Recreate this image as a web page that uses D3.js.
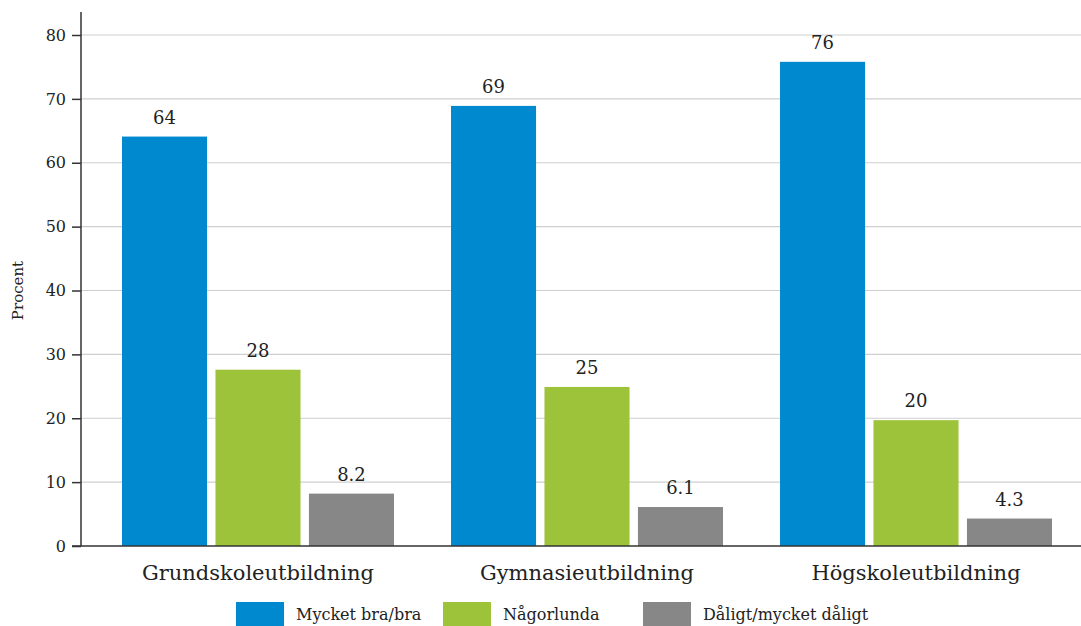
<!DOCTYPE html>
<html>
<head>
<meta charset="utf-8">
<script src="https://cdn.jsdelivr.net/npm/d3@7"></script>
<style>
  body { margin: 0; background: #fff; }
  text { font-family: "DejaVu Serif", "Liberation Serif", serif; fill: #222; }
</style>
</head>
<body>
<div id="chart"></div>
<script>
const categories = ["Grundskoleutbildning", "Gymnasieutbildning", "Högskoleutbildning"];
const seriesNames = ["Mycket bra/bra", "Någorlunda", "Dåligt/mycket dåligt"];
const goodValues = [64.1, 68.9, 75.8];
const fairValues = [27.6, 24.9, 19.7];
const poorValues = [8.2, 6.1, 4.3];
const yTicks = [0, 10, 20, 30, 40, 50, 60, 70, 80];
const colors = ["#0089cf", "#9dc33b", "#878787"];

const W = 1081, H = 626;
const margin = { top: 35, left: 81, bottom: 80 };
const y0 = H - margin.bottom; // 546

const svg = d3.select("#chart").append("svg")
  .attr("width", W).attr("height", H);

const y = d3.scaleLinear().domain([0, 80]).range([y0, margin.top]);

const x = d3.scaleBand().domain(categories)
  .range([93.5, 1080.5]).paddingInner(0.1733).paddingOuter(0.0866);
const xs = d3.scaleBand().domain(d3.range(3))
  .range([0, x.bandwidth()]).paddingInner(0.09);

// grid
svg.append("g").selectAll("line").data(yTicks.filter(d => d > 0)).join("line")
  .attr("x1", margin.left).attr("x2", W)
  .attr("y1", d => y(d)).attr("y2", d => y(d))
  .attr("stroke", "#cfcfcf").attr("stroke-width", 1.2);

// y axis
const yAxis = svg.append("g")
  .attr("transform", `translate(${margin.left},0)`)
  .call(d3.axisLeft(y).tickValues(yTicks).tickSize(9).tickPadding(6).tickSizeOuter(0));
yAxis.select(".domain").attr("d", `M0,12V${y0}`).attr("stroke", "#333").attr("stroke-width", 1.5);
yAxis.selectAll(".tick line").attr("stroke", "#333").attr("stroke-width", 1.5);
yAxis.selectAll(".tick text").attr("font-size", 16).attr("font-family", "DejaVu Serif").attr("fill", "#222");

// bars
const data = categories.map((c, i) => ({ cat: c, vals: [goodValues[i], fairValues[i], poorValues[i]] }));
const groups = svg.append("g").selectAll("g").data(data).join("g")
  .attr("transform", d => `translate(${x(d.cat)},0)`);

groups.selectAll("rect").data(d => d.vals).join("rect")
  .attr("x", (d, i) => xs(i))
  .attr("width", xs.bandwidth())
  .attr("y", d => y(d))
  .attr("height", d => y0 - y(d))
  .attr("fill", (d, i) => colors[i]);

groups.selectAll("text.val").data(d => d.vals).join("text")
  .attr("class", "val")
  .attr("x", (d, i) => xs(i) + xs.bandwidth() / 2)
  .attr("y", d => y(d) - 13)
  .attr("text-anchor", "middle")
  .attr("font-size", 18)
  .text(d => d >= 10 ? d3.format(".0f")(d) : d3.format(".1f")(d));

// x axis line
svg.append("line")
  .attr("x1", 72).attr("x2", W).attr("y1", y0).attr("y2", y0)
  .attr("stroke", "#333").attr("stroke-width", 1.5);

// category labels
svg.append("g").selectAll("text").data(categories).join("text")
  .attr("x", d => x(d) + x.bandwidth() / 2)
  .attr("y", 580)
  .attr("text-anchor", "middle")
  .attr("font-size", 21)
  .text(d => d);

// y label
svg.append("text")
  .attr("transform", `translate(23,${(y0 + margin.top) / 2}) rotate(-90)`)
  .attr("text-anchor", "middle")
  .attr("font-size", 15)
  .text("Procent");

// legend
const legendX = [236, 443, 643];
const legend = svg.append("g").selectAll("g").data(seriesNames).join("g")
  .attr("transform", (d, i) => `translate(${legendX[i]},602)`);
legend.append("rect").attr("width", 48).attr("height", 26).attr("fill", (d, i) => colors[i]);
legend.append("text").attr("x", 60).attr("y", 18).attr("font-size", 16).text(d => d);
</script>
</body>
</html>
